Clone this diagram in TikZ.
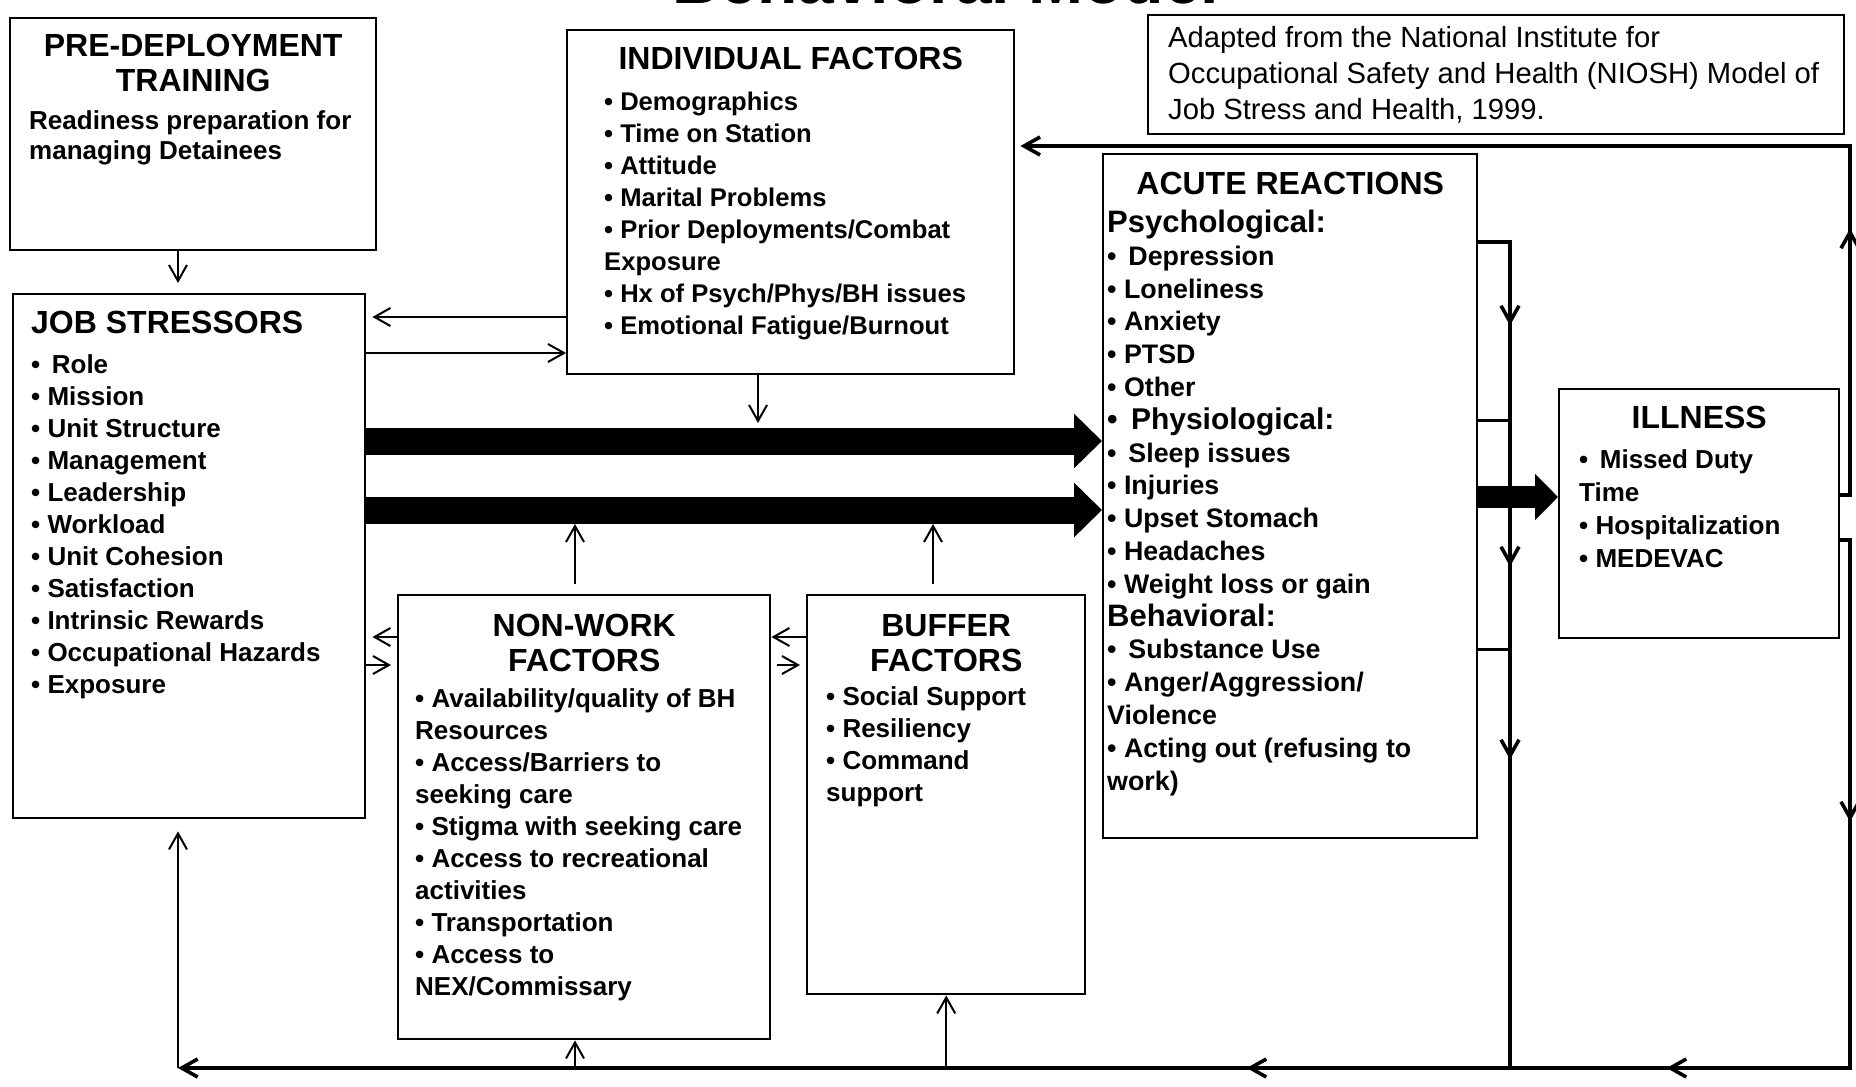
\documentclass[tikz,border=0pt]{standalone}
\usepackage{fontspec}
\setmainfont{Liberation Sans}
\usetikzlibrary{arrows.meta,decorations.markings}
\tikzstyle{box} = [rectangle, draw = black, line width = 1.2pt, anchor = north west, font = \bfseries, inner sep = 0pt]
\tikzstyle{arrow} = [line width = 1pt, -{Straight Barb[length=8pt,width=9pt]}]
\tikzstyle{backline} = [line width = 1.8pt, -{Straight Barb[length=8pt,width=9pt]}]
\tikzstyle{bracketline} = [line width = 1.5pt]
\tikzstyle{bigarrow} = [line width = 13.5pt, -{Triangle[length=14pt,width=26.5pt]}]
\newcommand{\headsz}{\fontsize{16}{17.5}\selectfont}
\newcommand{\itemsz}{\fontsize{13}{16}\selectfont}
\newcommand{\flowtip}{\arrow{Straight Barb[length=8pt,width=9pt]}}

\begin{document}
\begin{tikzpicture}[x = 0.5pt, y = -0.5pt]
\path[use as bounding box, fill = white] (0,0) rectangle (1856,1086);

\node (title) [anchor = base, font = \bfseries\fontsize{33}{36}\selectfont] at (946,4) {Behavioral Model};

\node (pre) [box, inner xsep = 9.5pt, inner ysep = 8pt] at (9,17) {\parbox[t][100pt][t]{164pt}{\centering\headsz PRE-DEPLOYMENT\\TRAINING\par\vspace{4pt}\raggedright\fontsize{13}{15}\selectfont
Readiness preparation for\\
managing Detainees}};
\node (job) [box, inner xsep = 9pt, inner ysep = 8.5pt] at (12,293) {\parbox[t][245pt][t]{158pt}{\raggedright\itemsz {\headsz JOB STRESSORS}\\[4pt]
• \,Role\\
• Mission\\
• Unit Structure\\
• Management\\
• Leadership\\
• Workload\\
• Unit Cohesion\\
• Satisfaction\\
• Intrinsic Rewards\\
• Occupational Hazards\\
• Exposure}};
\node (indiv) [box, inner xsep = 18.5pt, inner ysep = 8.5pt] at (566,29) {\parbox[t][155pt][t]{186.5pt}{{\centering\headsz INDIVIDUAL FACTORS\par}\vspace{4.5pt}\raggedright\fontsize{12.8}{16}\selectfont
• Demographics\\
• Time on Station\\
• Attitude\\
• Marital Problems\\
• Prior Deployments/Combat\\
Exposure\\
• Hx of Psych/Phys/BH issues\\
• Emotional Fatigue/Burnout}};
\node (source) [box, font = \normalfont, inner xsep = 10pt, inner ysep = 5.5pt] at (1147,14) {\parbox[t][48.5pt][t]{328pt}{\fontsize{14.6}{18}\selectfont
Adapted from the National Institute for\\
Occupational Safety and Health (NIOSH) Model of\\
Job Stress and Health, 1999.}};
\node (acute) [box, inner xsep = 2pt, inner ysep = 9pt] at (1102,153) {\parbox[t][324pt][t]{183pt}{{\centering\headsz ACUTE REACTIONS\par}\vspace{2.6pt}\raggedright\fontsize{13.4}{16.4}\selectfont
{\fontsize{15.5}{16}\selectfont Psychological:}\\
• \,Depression\\
• Loneliness\\
• Anxiety\\
• PTSD\\
• Other\\
{\fontsize{15}{16}\selectfont • \,Physiological:}\\
• \,Sleep issues\\
• Injuries\\
• Upset Stomach\\
• Headaches\\
• Weight loss or gain\\
{\fontsize{15.5}{16}\selectfont Behavioral:}\\
• \,Substance Use\\
• Anger/Aggression/\\
Violence\\
• Acting out (refusing to\\
work)}};
\node (illness) [box, inner xsep = 10pt, inner ysep = 8.5pt] at (1558,388) {\parbox[t][107.5pt][t]{120pt}{{\centering\headsz ILLNESS\par}\vspace{3.5pt}\raggedright\fontsize{13}{16.5}\selectfont
• \,Missed Duty\\
Time\\
• Hospitalization\\
• MEDEVAC}};
\node (nonwork) [box, inner xsep = 8.5pt, inner ysep = 9.5pt] at (397,594) {\parbox[t][203pt][t]{169pt}{{\centering\headsz NON-WORK\\FACTORS\par}\vspace{2pt}\raggedright\itemsz
• Availability/quality of BH\\
Resources\\
• Access/Barriers to\\
seeking care\\
• Stigma with seeking care\\
• Access to recreational\\
activities\\
• Transportation\\
• Access to\\
NEX/Commissary}};
\node (buffer) [box, inner xsep = 9.5pt, inner ysep = 9.5pt] at (806,594) {\parbox[t][180.5pt][t]{120pt}{{\centering\headsz BUFFER\\FACTORS\par}\vspace{1pt}\raggedright\itemsz
• Social Support\\
• Resiliency\\
• Command\\
support}};

\coordinate (colL) at (178,0);
\coordinate (colIn) at (758,0);
\coordinate (colNw) at (575,0);
\coordinate (colBf) at (933,0);
\coordinate (colBk) at (1510,0);
\coordinate (colRt) at (1850,0);
\coordinate (rowTop) at (0,146);
\coordinate (rowBk) at (0,242);
\coordinate (rowA) at (0,317);
\coordinate (rowB) at (0,353);
\coordinate (rowK1) at (0,420);
\coordinate (rowT1) at (0,441);
\coordinate (rowUp) at (0,495);
\coordinate (rowIl) at (0,497);
\coordinate (rowT2) at (0,510);
\coordinate (rowDn) at (0,540);
\coordinate (rowC) at (0,637);
\coordinate (rowK2) at (0,649);
\coordinate (rowD) at (0,665);
\coordinate (rowBus) at (0,1068);

\draw [arrow, shorten >= 5pt] (pre.south -| colL) -- (job.north -| colL);
\draw [arrow, shorten >= 3pt] (indiv.west |- rowA) -- (job.east |- rowA);
\draw [arrow] (job.east |- rowB) -- (indiv.west |- rowB);
\draw [arrow, shorten >= 9pt] (indiv.south -| colIn) -- (colIn |- rowT1);
\draw [bigarrow] (job.east |- rowT1) -- (acute.west |- rowT1);
\draw [bigarrow] (job.east |- rowT2) -- (acute.west |- rowT2);
\draw [arrow, shorten <= 5pt, shorten >= 7pt] (nonwork.north -| colNw) -- (colNw |- rowT2);
\draw [arrow, shorten <= 5pt, shorten >= 7pt] (buffer.north -| colBf) -- (colBf |- rowT2);
\draw [arrow, shorten >= 3pt] (nonwork.west |- rowC) -- (job.east |- rowC);
\draw [arrow, shorten >= 3pt] (job.east |- rowD) -- (nonwork.west |- rowD);
\draw [arrow] (buffer.west |- rowC) -- (nonwork.east |- rowC);
\draw [arrow, shorten <= 3pt, shorten >= 3pt] (nonwork.east |- rowD) -- (buffer.west |- rowD);

\draw [backline, -, postaction = {decorate}, decoration = {markings, mark = at position 57.5pt with {\flowtip}, mark = at position 178pt with {\flowtip}, mark = at position 274.5pt with {\flowtip}}] (acute.east |- rowBk) -- (colBk |- rowBk) -- (colBk |- rowBus);
\draw [bracketline] (acute.east |- rowK1) -- (colBk |- rowK1);
\draw [bracketline] (acute.east |- rowK2) -- (colBk |- rowK2);
\draw [bigarrow, line width = 11pt, -{Triangle[length=11.5pt,width=22.5pt]}] (acute.east |- rowIl) -- (illness.west |- rowIl);

\draw [backline, shorten >= 2.5pt, postaction = {decorate}, decoration = {markings, mark = at position 138pt with {\flowtip}}] (illness.east |- rowUp) -- (colRt |- rowUp) -- (colRt |- rowTop) -- (indiv.east |- rowTop);
\draw [backline, postaction = {decorate}, decoration = {markings, mark = at position 145.5pt with {\flowtip}, mark = at position 360.5pt with {\flowtip}, mark = at position 570.5pt with {\flowtip}}] (illness.east |- rowDn) -- (colRt |- rowDn) -- (colRt |- rowBus) -- (colL |- rowBus);

\draw [arrow, shorten >= 6pt] (colL |- rowBus) -- (job.south -| colL);
\draw [arrow] (colNw |- rowBus) -- (nonwork.south -| colNw);
\draw [arrow] (buffer.south |- rowBus) -- (buffer.south);

\end{tikzpicture}
\end{document}
